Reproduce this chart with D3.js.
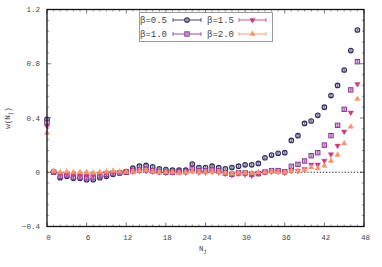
<!DOCTYPE html>
<html><head>
<meta charset="utf-8">
<script src="https://d3js.org/d3.v7.min.js"></script>
<style>
  body { margin: 0; background: #fff; }
  svg { display: block; }
  .tick-label { font-family: "Liberation Mono", monospace; font-size: 7.5px; fill: #444; }
  .legend-text { font-family: "Liberation Mono", monospace; font-size: 9px; fill: #444; }
  .axis-title { font-family: "Liberation Mono", monospace; font-size: 7.5px; fill: #444; }
</style>
</head>
<body>
<svg id="chart" width="382" height="267"></svg>
<script>

// N_j runs 0..47
const nValues = d3.range(0, 48);

const beta05 = [0.39, 0.0, -0.04, -0.03, -0.045, -0.045, -0.055, -0.055, -0.04, -0.03,
  -0.015, -0.005, 0.005, 0.03, 0.045, 0.05, 0.04, 0.025, 0.02, 0.015,
  0.015, 0.015, 0.06, 0.035, 0.035, 0.045, 0.035, 0.025, 0.035, 0.045,
  0.055, 0.055, 0.065, 0.107, 0.127, 0.14, 0.144, 0.235, 0.27, 0.36,
  0.378, 0.42, 0.48, 0.565, 0.64, 0.754, 0.897, 1.049];

const beta10 = [0.365, 0.0, -0.03, -0.02, -0.035, -0.035, -0.04, -0.035, -0.025, -0.015,
  -0.01, -0.005, 0.0, 0.01, 0.015, 0.02, 0.01, 0.005, 0.0, 0.0,
  0.005, 0.005, 0.025, 0.01, 0.01, 0.015, 0.01, -0.005, -0.015, -0.005,
  -0.005, -0.014, -0.01, 0.002, 0.012, 0.012, 0.004, 0.044, 0.058, 0.083,
  0.122, 0.144, 0.20, 0.27, 0.346, 0.464, 0.607, 0.815];

const beta15 = [0.34, 0.005, -0.015, -0.01, -0.02, -0.02, -0.025, -0.02, -0.015, -0.005,
  0.0, 0.0, 0.005, 0.005, 0.01, 0.01, 0.005, 0.0, -0.005, 0.0,
  0.0, 0.0, 0.01, 0.0, 0.0, 0.005, 0.0, -0.01, -0.02, -0.01,
  -0.015, -0.025, -0.01, 0.0, 0.005, 0.005, -0.003, 0.01, 0.01, 0.024,
  0.056, 0.056, 0.085, 0.132, 0.196, 0.30, 0.44, 0.65];

const beta20 = [0.29, 0.01, 0.0, 0.005, 0.0, 0.0, 0.0, -0.005, 0.0, 0.005,
  0.01, 0.005, 0.005, 0.005, 0.01, 0.015, 0.005, 0.0, 0.0, 0.0,
  -0.005, 0.0, 0.005, 0.0, 0.0, 0.005, 0.0, -0.005, -0.01, -0.005,
  -0.005, -0.005, 0.0, 0.0, 0.005, 0.002, 0.0, 0.01, 0.01, 0.017,
  0.036, 0.029, 0.048, 0.083, 0.127, 0.213, 0.336, 0.54];

const seriesLabels = ["β=0.5", "β=1.0", "β=1.5", "β=2.0"];
const seriesValues = [beta05, beta10, beta15, beta20];
const seriesColors = ["#2e2a5a", "#8a3793", "#c83f80", "#f9956a"];
const seriesShapes = ["circle", "square", "down", "up"];

const xTicks = [0, 6, 12, 18, 24, 30, 36, 42, 48];
const yTicks = [-0.4, 0, 0.4, 0.8, 1.2];

const svg = d3.select("#chart");
const pLeft = 47, pRight = 364, pTop = 9.5, pBottom = 226.5;

const x = d3.scaleLinear().domain([0, 48]).range([pLeft, pRight]);
const y = d3.scaleLinear().domain([-0.4, 1.2]).range([pBottom, pTop]);

// ticks, mirrored on all four sides, pointing inward
const tickG = svg.append("g");
d3.range(0, 49, 1).forEach(v => {
  const major = v % 6 === 0;
  const len = major ? 4 : 2;
  [[pBottom, -len], [pTop, len]].forEach(([y0, d]) => {
    tickG.append("line")
      .attr("x1", x(v)).attr("x2", x(v))
      .attr("y1", y0).attr("y2", y0 + d)
      .attr("stroke", major ? "#555" : "#777").attr("stroke-width", 0.8);
  });
});
d3.range(-0.4, 1.2001, 0.08).forEach(v => {
  const major = Math.abs(Math.round(v / 0.4) * 0.4 - v) < 1e-6;
  const len = major ? 4 : 2;
  [[pLeft, len], [pRight, -len]].forEach(([x0, d]) => {
    tickG.append("line")
      .attr("x1", x0).attr("x2", x0 + d)
      .attr("y1", y(v)).attr("y2", y(v))
      .attr("stroke", major ? "#555" : "#777").attr("stroke-width", 0.8);
  });
});

// tick labels
svg.append("g").selectAll("text").data(xTicks).join("text")
  .attr("class", "tick-label")
  .attr("x", d => x(d) + 1.5)
  .attr("y", 240)
  .attr("text-anchor", "middle")
  .text(d => d);

svg.append("g").selectAll("text").data(yTicks).join("text")
  .attr("class", "tick-label")
  .attr("x", 40)
  .attr("y", d => y(d))
  .attr("dy", "0.35em")
  .attr("text-anchor", "end")
  .text(d => d === 0 ? "0" : (d < 0 ? "−" : "") + Math.abs(d).toFixed(1));

// axis titles
const yt = svg.append("text")
  .attr("class", "axis-title")
  .attr("transform", "translate(10," + ((pTop + pBottom) / 2) + ") rotate(-90)")
  .attr("text-anchor", "middle");
yt.append("tspan").text("w(N");
yt.append("tspan").attr("font-size", "5.5px").attr("dy", "1.5").text("j");
yt.append("tspan").attr("dy", "-1.5").text(")");

const xt = svg.append("text")
  .attr("class", "axis-title")
  .attr("x", 203).attr("y", 251)
  .attr("text-anchor", "middle");
xt.append("tspan").text("N");
xt.append("tspan").attr("font-size", "5.5px").attr("dy", "2").text("j");

// zero reference line
svg.append("line")
  .attr("x1", pLeft).attr("x2", pRight)
  .attr("y1", y(0)).attr("y2", y(0))
  .attr("stroke", "#111").attr("stroke-width", 0.9)
  .attr("stroke-dasharray", "1.3,1.8");

// marker helper
function drawMarker(g, shape, color, cx, cy) {
  if (shape === "circle") {
    g.append("circle").attr("cx", cx).attr("cy", cy).attr("r", 2.3)
      .attr("fill", "#d3d1e2").attr("stroke", color).attr("stroke-width", 1.1);
  } else if (shape === "square") {
    g.append("rect").attr("x", cx - 2.2).attr("y", cy - 2.2)
      .attr("width", 4.4).attr("height", 4.4)
      .attr("fill", "#ddbde0").attr("stroke", color).attr("stroke-width", 1.0);
  } else {
    const sym = d3.symbol().type(d3.symbolTriangle).size(13);
    g.append("path").attr("d", sym())
      .attr("transform", "translate(" + cx + "," + cy + ")" + (shape === "down" ? " rotate(180)" : ""))
      .attr("fill", color).attr("stroke", color).attr("stroke-width", 0.4);
  }
  // tiny error bar inside the marker
  g.append("line").attr("x1", cx).attr("x2", cx).attr("y1", cy - 1.1).attr("y2", cy + 1.1)
    .attr("stroke", color).attr("stroke-width", 0.5);
  [-1.1, 1.1].forEach(d => g.append("line")
    .attr("x1", cx - 0.9).attr("x2", cx + 0.9).attr("y1", cy + d).attr("y2", cy + d)
    .attr("stroke", color).attr("stroke-width", 0.5));
}

// data points
seriesValues.forEach((vals, i) => {
  const g = svg.append("g");
  vals.forEach((v, j) => drawMarker(g, seriesShapes[i], seriesColors[i], x(nValues[j]), y(v)));
});

// frame
svg.append("rect")
  .attr("x", pLeft).attr("y", pTop)
  .attr("width", pRight - pLeft).attr("height", pBottom - pTop)
  .attr("fill", "none").attr("stroke", "#111").attr("stroke-width", 1.3);

// legend
const lg = svg.append("g");
lg.append("rect").attr("x", 139.5).attr("y", 12.5).attr("width", 133).attr("height", 29)
  .attr("fill", "#fff").attr("stroke", "#999").attr("stroke-width", 1);
const legendCols = [[140, 173, 201], [207, 239, 266]];
seriesLabels.forEach((lab, i) => {
  const col = legendCols[Math.floor(i / 2)];
  const ly = i % 2 === 0 ? 20 : 34;
  lg.append("text").attr("class", "legend-text")
    .attr("x", col[0]).attr("y", ly).attr("dy", "0.35em").text(lab);
  const c = seriesColors[i];
  lg.append("line").attr("x1", col[1]).attr("x2", col[2]).attr("y1", ly).attr("y2", ly)
    .attr("stroke", c).attr("stroke-width", 1.2).attr("opacity", 0.75);
  [col[1], col[2]].forEach(ex => lg.append("line")
    .attr("x1", ex).attr("x2", ex).attr("y1", ly - 2).attr("y2", ly + 2)
    .attr("stroke", c).attr("stroke-width", 1).attr("opacity", 0.75));
  drawMarker(lg, seriesShapes[i], c, (col[1] + col[2]) / 2, ly);
});

</script>
</body>
</html>
